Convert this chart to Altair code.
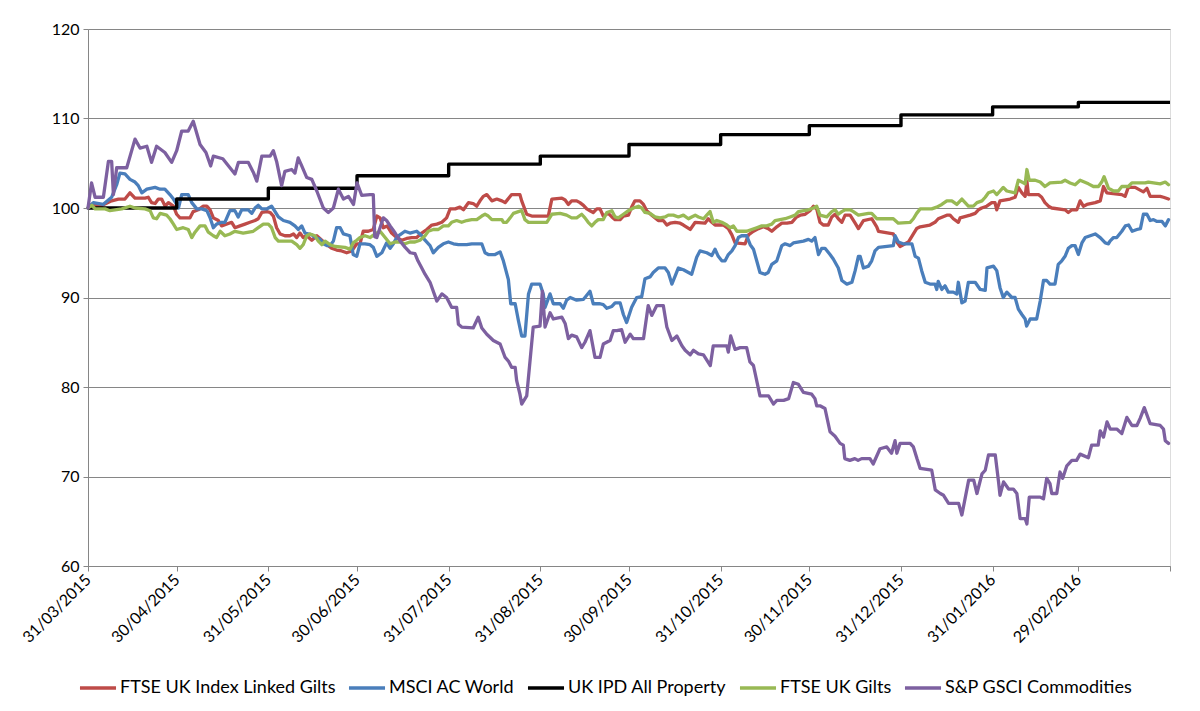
import altair as alt
import pandas as pd

START = pd.Timestamp("2015-03-31")

series_names = ["FTSE UK Index Linked Gilts", "MSCI AC World", "UK IPD All Property",
                "FTSE UK Gilts", "S&P GSCI Commodities"]
series_colors = ["#BE4B48", "#4A7EBB", "#000000", "#98B954", "#7D60A0"]

# (days since 31/03/2015, index value)
index_linked_gilts = [(0,100.0),(1.3,100.4),(4.1,100.2),(8.0,100.8),(10.3,101.0),(12.5,101.0),(14.2,101.7),(15.9,101.1),(19.3,101.1),(20.4,101.2),(21.5,100.6),(22.7,100.5),(23.8,101.0),(24.9,101.0),(26.1,100.2),(27.2,100.6),(28.9,100.2),(30.0,99.3),(31.1,98.9),(34.5,98.9),(35.6,99.6),(37.3,99.8),(39.0,100.2),(40.2,100.2),(41.3,99.8),(42.4,98.9),(44.1,98.6),(45.2,98.0),(48.6,98.4),(49.7,97.8),(51.4,98.0),(53.1,98.2),(54.8,98.4),(56.5,98.6),(57.6,98.8),(58.8,99.5),(60.5,99.6),(61.6,99.5),(62.7,99.1),(63.8,97.8),(65.0,97.1),(66.6,96.9),(68.3,96.9),(69.5,97.1),(70.6,96.7),(71.7,97.2),(72.8,96.7),(74.0,96.9),(75.7,96.4),(77.4,96.9),(79.1,96.4),(80.8,95.9),(82.4,95.5),(84.1,95.3),(85.8,95.2),(87.5,95.0),(89.2,95.2),(90.9,96.0),(92.0,96.0),(93.1,97.4),(94.8,97.4),(96.5,97.6),(97.7,99.1),(98.8,98.9),(99.9,97.8),(101.2,98.0),(102.7,97.2),(104.4,96.7),(106.1,96.4),(107.8,96.6),(109.5,96.7),(111.2,96.7),(112.9,97.2),(114.6,97.6),(116.3,98.1),(118.0,98.2),(119.7,98.4),(121.3,98.9),(122.5,99.9),(124.2,99.9),(125.8,100.1),(127.0,99.8),(128.7,100.6),(130.3,100.5),(131.5,100.2),(132.6,100.8),(133.7,101.3),(134.9,101.5),(136.6,100.8),(138.3,101.0),(140.0,100.8),(141.1,100.6),(143.3,101.5),(146.1,101.5),(146.7,100.8),(148.4,99.3),(150.1,99.1),(155.7,99.1),(156.9,101.0),(160.3,101.1),(161.4,100.9),(162.5,100.4),(163.6,100.8),(165.3,100.8),(166.4,100.6),(167.6,100.3),(168.7,99.9),(169.8,99.7),(170.9,99.5),(172.1,99.9),(173.2,99.9),(174.3,99.1),(176.0,99.4),(177.2,99.0),(178.3,98.7),(180.0,98.7),(181.1,99.1),(182.8,99.2),(183.9,100.1),(185.0,100.8),(186.7,100.8),(187.9,100.4),(189.0,99.7),(190.7,99.2),(192.9,98.6),(194.6,98.6),(195.8,98.1),(196.9,98.3),(198.6,98.4),(200.3,98.3),(201.4,98.1),(203.7,97.6),(205.4,98.4),(208.7,98.3),(209.8,98.8),(211.0,98.4),(212.1,98.1),(214.9,98.1),(216.6,97.7),(217.8,97.0),(218.9,96.1),(222.3,96.0),(223.4,97.0),(225.1,97.4),(226.8,97.7),(228.5,97.9),(230.1,97.7),(231.3,97.4),(233.0,97.9),(234.7,98.3),(236.4,98.3),(238.1,98.4),(239.7,99.0),(240.9,99.2),(242.6,99.3),(244.2,99.7),(245.4,100.2),(246.5,99.9),(247.6,98.4),(248.7,98.1),(250.4,98.1),(251.6,99.0),(252.7,99.3),(253.8,98.8),(255.0,98.4),(256.1,99.2),(257.8,99.2),(259.5,98.3),(260.6,97.7),(262.3,98.6),(265.1,98.8),(266.8,97.9),(267.4,97.4),(272.4,97.1),(273.6,96.2),(274.7,95.7),(276.4,96.0),(277.5,96.2),(279.2,97.1),(280.3,97.7),(281.5,97.9),(284.8,98.1),(286.5,98.4),(287.6,98.8),(290.5,99.2),(291.6,99.2),(292.7,98.8),(294.4,98.4),(295.0,98.9),(298.4,99.2),(300.1,99.4),(301.2,99.8),(302.3,100.0),(304.0,100.2),(305.7,100.6),(306.8,100.6),(307.4,99.8),(308.5,100.8),(311.9,101.0),(313.6,101.2),(314.7,102.3),(315.9,101.7),(317.0,101.3),(317.6,103.0),(318.1,101.5),(321.5,101.5),(322.6,101.2),(323.7,100.6),(324.9,100.2),(326.0,100.0),(330.5,99.8),(331.6,99.5),(332.8,99.8),(334.5,99.8),(335.6,100.8),(336.7,100.2),(337.9,100.4),(340.7,100.6),(342.4,100.8),(343.5,102.4),(344.6,101.7),(349.7,101.5),(350.8,101.3),(351.9,102.3),(354.2,102.3),(355.9,102.0),(357.0,101.8),(358.2,102.2),(359.3,101.3),(362.7,101.3),(363.8,101.2),(365.5,101.0)]

msci_ac_world = [(0,100.0),(1.8,100.6),(5.1,100.4),(8.0,101.2),(9.7,102.6),(10.8,103.9),(12.5,103.8),(14.2,103.2),(15.9,102.9),(17.0,102.5),(18.2,101.7),(19.9,102.1),(22.7,102.3),(24.4,102.1),(26.0,102.1),(27.7,101.5),(28.9,101.0),(30.0,100.4),(30.6,100.0),(31.7,101.5),(33.9,101.5),(35.1,100.6),(36.8,99.9),(38.5,99.9),(40.2,99.7),(41.3,98.9),(42.4,97.8),(43.5,98.2),(45.2,98.4),(46.3,98.4),(48.0,99.7),(49.7,99.7),(50.8,99.0),(52.0,99.8),(54.2,99.8),(55.4,99.4),(56.5,100.0),(57.6,100.3),(58.8,99.9),(60.5,99.9),(61.0,100.0),(62.1,100.2),(62.7,99.9),(64.4,99.0),(66.1,98.6),(68.3,98.4),(70.0,98.0),(71.1,97.6),(72.3,98.0),(73.4,97.2),(75.7,97.0),(76.8,96.7),(78.5,96.5),(79.6,96.0),(80.8,95.8),(81.9,95.8),(83.0,96.3),(84.1,97.8),(85.3,97.8),(86.4,97.1),(88.6,96.9),(89.7,94.8),(90.9,94.6),(92.0,96.0),(93.7,96.0),(95.4,95.9),(96.5,95.6),(97.7,94.6),(99.4,95.0),(101.0,96.1),(102.2,95.5),(103.3,96.0),(104.4,96.7),(105.5,97.0),(107.2,97.4),(108.9,97.2),(111.2,97.4),(112.9,96.9),(114.0,96.4),(115.7,95.8),(116.8,95.0),(118.5,95.6),(120.2,96.0),(121.9,96.2),(123.6,96.0),(125.3,95.9),(128.1,95.9),(129.8,96.0),(133.2,96.0),(134.3,95.0),(135.4,94.8),(137.7,94.8),(139.4,95.1),(140.5,94.1),(142.2,92.0),(143.0,89.3),(144.5,89.3),(145.6,87.4),(146.7,85.7),(147.8,85.7),(149.0,90.4),(150.1,91.5),(152.9,91.5),(154.0,90.4),(154.6,88.9),(156.3,90.4),(157.4,89.3),(159.7,89.3),(160.8,88.8),(161.9,89.7),(163.1,90.0),(165.3,89.7),(167.6,89.8),(168.1,90.0),(169.8,90.7),(170.9,89.3),(173.2,89.3),(174.3,89.2),(175.5,88.8),(177.2,89.0),(178.3,89.4),(180.0,89.4),(181.1,88.1),(182.2,87.2),(183.9,88.9),(185.6,90.0),(187.3,90.1),(188.4,92.1),(190.1,92.3),(191.2,92.8),(192.9,93.3),(195.2,93.3),(196.3,92.8),(197.5,91.5),(198.6,92.4),(199.7,93.3),(201.4,93.1),(203.1,92.8),(204.2,92.6),(205.9,94.5),(207.0,95.2),(209.3,95.0),(211.0,94.7),(212.1,95.4),(213.2,94.6),(214.4,94.1),(215.5,94.1),(216.6,94.8),(217.8,95.2),(218.9,95.8),(220.0,96.7),(221.1,96.9),(222.8,96.9),(224.0,95.9),(225.1,95.4),(226.2,94.1),(227.3,92.8),(229.0,92.6),(230.1,92.8),(231.3,93.7),(233.0,94.1),(234.7,95.8),(235.8,96.0),(237.5,95.8),(238.6,96.1),(242.0,96.3),(243.7,96.5),(244.8,96.3),(245.9,96.7),(247.1,94.8),(248.2,95.5),(249.3,95.5),(251.0,94.8),(252.1,94.3),(253.8,93.3),(255.0,91.9),(256.7,91.5),(258.4,91.7),(259.5,93.0),(260.6,94.6),(261.2,94.6),(262.3,93.3),(264.0,93.5),(265.1,94.1),(266.2,95.2),(267.4,95.6),(272.4,95.8),(273.0,96.9),(274.1,96.2),(275.7,96.0),(278.7,96.0),(279.8,94.6),(280.9,94.4),(282.0,93.0),(283.2,91.7),(284.8,91.5),(286.5,91.5),(287.1,90.9),(287.6,91.8),(288.8,90.9),(289.9,91.3),(291.0,90.6),(292.7,90.6),(293.9,90.4),(294.4,91.7),(295.6,89.4),(296.7,89.6),(297.8,91.7),(300.1,91.7),(301.8,90.9),(303.5,90.8),(304.1,93.3),(306.3,93.5),(307.4,93.0),(308.5,91.1),(309.6,90.0),(310.8,90.6),(312.5,90.0),(313.6,90.0),(314.7,88.7),(315.9,88.1),(317.0,87.6),(317.5,86.8),(318.7,87.6),(320.9,87.6),(322.1,89.6),(323.2,91.9),(324.3,91.9),(325.4,91.5),(327.1,91.5),(328.2,93.7),(329.4,94.1),(330.5,94.6),(331.6,95.5),(332.8,95.8),(333.9,95.8),(335.0,94.8),(336.2,96.1),(337.3,96.7),(339.0,96.9),(340.7,97.1),(342.4,96.7),(344.1,96.1),(345.2,96.0),(345.7,96.3),(346.9,96.7),(348.0,96.7),(349.7,97.4),(350.9,98.0),(352.0,98.1),(353.2,97.4),(354.8,97.6),(356.0,97.7),(357.0,99.3),(358.2,99.3),(359.3,98.6),(360.4,98.7),(361.6,98.5),(363.3,98.5),(364.4,98.0),(365.5,98.7)]

uk_gilts = [(0,100.0),(1.3,100.3),(2.4,99.9),(5.8,99.9),(7.4,99.7),(11.4,99.9),(14.2,100.2),(15.9,100.0),(19.3,99.9),(21.0,99.7),(22.1,98.9),(23.2,98.8),(24.4,99.4),(26.6,99.2),(27.7,98.8),(28.9,98.2),(30.0,97.6),(32.2,97.8),(33.9,97.6),(35.1,96.7),(36.2,97.3),(37.9,98.0),(39.6,98.0),(40.7,97.3),(42.4,96.9),(43.5,96.7),(44.7,97.4),(46.3,96.9),(48.0,97.1),(49.7,97.4),(52.5,97.2),(55.9,97.4),(57.6,97.8),(59.3,98.2),(61.0,98.2),(62.1,97.8),(63.3,96.7),(64.4,96.3),(68.9,96.3),(70.6,95.9),(71.7,95.5),(72.8,95.9),(74.0,96.9),(75.1,97.1),(76.8,96.9),(77.9,96.3),(79.1,95.9),(80.2,96.3),(81.9,95.9),(83.6,95.7),(86.9,95.6),(88.6,95.4),(89.7,96.1),(90.9,96.4),(92.0,96.7),(93.7,96.9),(95.4,96.7),(97.1,97.1),(98.8,97.4),(100.5,96.7),(102.2,96.0),(103.9,96.2),(105.5,96.2),(107.2,96.0),(108.9,96.2),(110.6,96.2),(112.3,96.4),(114.0,96.9),(115.1,97.4),(116.8,97.6),(118.5,97.6),(120.2,98.0),(121.9,98.0),(123.0,98.4),(124.7,98.6),(126.4,98.4),(128.1,98.6),(129.8,98.7),(131.5,98.7),(133.2,99.1),(134.3,99.3),(135.4,99.1),(136.6,98.7),(140.0,98.7),(140.5,98.4),(141.6,98.4),(142.8,98.9),(143.9,99.4),(145.6,99.6),(146.7,99.7),(147.8,98.7),(149.0,98.4),(155.2,98.4),(156.9,99.3),(159.7,99.4),(161.9,99.2),(163.6,98.9),(165.3,98.9),(167.0,99.3),(168.1,98.9),(169.2,98.4),(170.4,98.0),(171.5,98.4),(172.6,98.7),(174.3,98.7),(175.5,99.5),(177.2,99.7),(178.3,99.0),(179.4,98.9),(181.1,99.3),(182.8,99.7),(184.5,100.0),(186.2,100.2),(187.3,100.0),(188.4,99.5),(190.1,99.4),(191.8,99.0),(193.5,98.9),(195.2,99.0),(196.3,99.2),(198.0,99.2),(199.7,99.0),(201.4,99.2),(203.1,98.8),(204.2,99.0),(205.4,99.2),(206.5,99.0),(208.2,98.8),(209.3,99.2),(210.4,99.6),(211.5,98.4),(212.7,98.6),(214.4,98.4),(216.1,98.1),(217.2,97.8),(218.3,98.0),(219.5,97.4),(222.8,97.4),(224.5,97.6),(226.2,97.8),(227.9,98.0),(229.6,98.0),(231.3,98.2),(232.4,98.6),(235.8,98.8),(237.5,99.0),(239.2,99.2),(240.3,99.6),(243.7,99.8),(245.4,100.0),(246.5,100.2),(247.6,99.2),(249.9,99.0),(251.6,99.6),(252.7,99.8),(253.8,99.3),(255.0,99.6),(256.1,99.8),(257.8,99.8),(258.9,99.6),(260.6,99.2),(264.0,99.4),(265.1,99.4),(266.8,98.8),(272.4,98.8),(274.1,98.3),(278.1,98.4),(279.2,98.8),(280.3,99.4),(281.5,99.9),(285.4,99.9),(287.1,100.1),(288.8,100.4),(290.5,100.8),(292.2,100.8),(293.9,100.4),(295.6,101.0),(296.7,100.6),(297.8,100.2),(299.5,100.2),(300.7,100.6),(302.4,100.8),(303.5,101.2),(304.6,101.7),(306.3,101.9),(307.4,101.5),(308.5,101.9),(309.6,102.3),(310.8,101.9),(313.6,101.7),(314.7,103.1),(315.9,102.9),(317.0,102.7),(317.6,104.3),(318.4,103.1),(320.4,103.1),(322.1,102.9),(323.7,102.4),(325.4,102.8),(329.4,102.9),(330.5,103.1),(332.2,102.8),(333.9,102.6),(335.6,103.1),(338.4,102.7),(340.1,102.4),(341.8,102.4),(342.9,102.9),(343.7,103.5),(345.2,102.2),(346.9,101.9),(348.5,101.9),(349.7,102.4),(351.9,102.4),(353.1,102.8),(357.6,102.8),(358.7,102.9),(362.7,102.7),(364.4,102.9),(365.5,102.6)]

gsci_commodities = [(0,100.0),(1.2,102.8),(2.4,101.2),(5.2,101.2),(6.9,105.2),(8.0,105.2),(8.6,101.5),(9.7,104.5),(13.1,104.5),(15.9,107.7),(17.6,106.7),(19.9,106.9),(21.5,105.1),(23.2,106.9),(26.0,106.2),(28.3,105.1),(30.0,106.4),(31.7,108.6),(33.9,108.6),(35.6,109.7),(37.9,107.1),(39.9,106.2),(41.5,104.7),(42.4,105.8),(45.6,105.5),(49.7,103.8),(50.9,105.1),(54.2,105.1),(55.9,104.0),(57.1,103.0),(58.8,105.8),(61.6,105.8),(62.7,106.4),(63.8,105.2),(65.5,102.5),(66.6,104.1),(68.9,104.3),(70.0,103.9),(71.1,105.6),(72.3,104.7),(74.0,103.4),(75.7,103.2),(77.4,101.9),(79.6,100.0),(81.3,99.5),(83.0,100.0),(84.7,102.1),(86.4,101.0),(88.1,101.3),(89.8,100.4),(91.0,102.8),(92.6,101.4),(95.4,101.5),(96.5,101.5),(97.0,96.8),(97.7,96.7),(99.9,98.9),(101.0,98.6),(102.2,98.0),(103.9,97.2),(105.6,96.3),(107.3,95.6),(109.0,95.0),(110.6,94.9),(111.6,94.1),(112.9,93.3),(114.0,92.6),(115.7,91.7),(118.0,89.6),(119.7,90.4),(121.3,90.0),(123.0,88.9),(124.7,88.9),(125.3,87.0),(126.4,86.7),(130.3,86.6),(132.0,87.8),(133.2,86.6),(134.9,85.9),(137.1,85.2),(139.4,84.8),(141.1,83.3),(142.2,82.9),(143.3,82.2),(144.5,82.2),(145.0,80.7),(146.1,79.2),(146.7,78.1),(148.4,79.0),(150.6,86.7),(152.9,86.8),(153.7,90.7),(154.6,86.7),(156.3,88.3),(157.4,87.6),(160.3,87.8),(161.4,87.1),(162.5,85.4),(163.6,85.8),(165.3,85.6),(167.0,84.4),(168.1,85.0),(169.8,86.3),(171.5,83.3),(173.2,83.3),(174.3,84.8),(176.6,85.2),(177.7,86.3),(178.9,86.3),(180.5,86.4),(181.7,85.0),(183.4,85.9),(184.5,85.4),(187.9,85.4),(189.5,89.1),(190.7,88.0),(192.4,89.1),(194.6,89.1),(195.8,86.7),(197.5,85.2),(199.2,85.7),(200.9,84.6),(202.0,84.1),(203.7,83.6),(204.8,84.1),(206.5,83.7),(208.2,83.6),(210.5,82.4),(211.5,84.6),(216.1,84.6),(216.6,83.9),(217.4,85.7),(218.9,84.2),(220.6,84.4),(222.8,84.4),(223.9,82.8),(225.1,82.4),(227.3,79.0),(230.2,79.0),(231.9,78.1),(233.0,78.5),(235.3,78.5),(237.0,78.7),(238.6,80.5),(240.3,80.3),(242.0,79.4),(244.8,79.2),(245.9,78.7),(246.5,77.9),(247.6,77.9),(249.3,77.6),(251.0,75.0),(252.7,74.5),(254.4,73.7),(255.5,73.5),(256.0,72.0),(257.7,71.8),(259.4,72.0),(260.5,71.8),(261.7,72.0),(264.5,72.0),(265.6,71.4),(267.9,73.1),(270.2,73.3),(271.8,72.6),(273.0,74.0),(273.6,72.6),(274.7,73.7),(278.1,73.7),(279.2,73.3),(280.4,72.0),(281.5,70.9),(285.4,70.7),(286.6,68.5),(288.3,68.1),(289.4,67.9),(291.1,67.0),(294.5,67.0),(295.6,65.7),(297.9,69.6),(299.6,69.6),(300.7,68.1),(302.4,70.3),(303.5,70.7),(304.6,72.4),(306.9,72.4),(308.0,69.4),(308.5,67.9),(309.7,69.4),(311.4,68.6),(313.0,68.6),(314.2,68.1),(315.3,65.3),(317.0,65.3),(317.6,64.7),(318.4,67.7),(322.1,67.7),(323.2,67.5),(324.3,69.8),(325.4,69.2),(326.0,68.1),(327.7,68.1),(328.8,70.5),(329.7,69.8),(331.1,71.2),(332.8,71.8),(334.4,71.8),(335.6,72.5),(338.4,72.1),(339.5,73.5),(341.7,73.5),(342.4,75.1),(343.5,74.4),(344.7,76.1),(345.8,75.3),(348.0,75.3),(349.7,74.8),(351.4,76.6),(353.1,75.7),(354.8,75.7),(355.9,76.5),(357.3,77.7),(359.3,75.9),(362.7,75.7),(363.8,75.3),(364.4,74.0),(365.5,73.7)]

# UK IPD All Property: monthly index, held flat between month ends
ipd_dates = ["2015-03-31", "2015-04-30", "2015-05-31", "2015-06-30", "2015-07-31", "2015-08-31",
             "2015-09-30", "2015-10-31", "2015-11-30", "2015-12-31", "2016-01-31", "2016-02-29",
             "2016-03-31"]
ipd_values = [100.0, 101.0, 102.2, 103.6, 104.9, 105.8, 107.1, 108.2, 109.2, 110.4, 111.3, 111.8, 111.8]

tick_dates = [(2015, 3, 31), (2015, 4, 30), (2015, 5, 31), (2015, 6, 30), (2015, 7, 31), (2015, 8, 31),
              (2015, 9, 30), (2015, 10, 31), (2015, 11, 30), (2015, 12, 31), (2016, 1, 31), (2016, 2, 29),
              (2016, 3, 31)]
y_ticks = [60, 70, 80, 90, 100, 110, 120]


def frame(pairs, name):
    df = pd.DataFrame(pairs, columns=["day", "value"])
    df["date"] = START + pd.to_timedelta(df["day"], unit="D")
    df["series"] = name
    return df[["date", "value", "series"]]


daily = {
    series_names[0]: frame(index_linked_gilts, series_names[0]),
    series_names[1]: frame(msci_ac_world, series_names[1]),
    series_names[3]: frame(uk_gilts, series_names[3]),
    series_names[4]: frame(gsci_commodities, series_names[4]),
}
ipd = pd.DataFrame({"date": pd.to_datetime(ipd_dates), "value": ipd_values, "series": series_names[2]})

FONT = "Lato"
GREY = "#868686"

x_enc = alt.X(
    "date:T",
    scale=alt.Scale(domain=[alt.DateTime(year=2015, month=3, date=31),
                            alt.DateTime(year=2016, month=3, date=31)], nice=False),
    axis=alt.Axis(
        values=[alt.DateTime(year=y, month=m, date=d) for (y, m, d) in tick_dates],
        labelExpr="(year(datum.value) == 2016 && month(datum.value) == 2) ? '' : timeFormat(datum.value, '%d/%m/%Y')",
        labelAngle=-45, labelAlign="right", labelBaseline="middle",
        labelFont=FONT, labelFontSize=16, labelColor="#000000", labelPadding=6,
        labelOverlap=False, grid=False, domainColor=GREY, tickColor=GREY, tickSize=5,
        title=None,
    ),
)
y_enc = alt.Y(
    "value:Q",
    scale=alt.Scale(domain=[60, 120], nice=False, zero=False),
    axis=alt.Axis(values=y_ticks, grid=True, gridColor=GREY, domainColor=GREY, tickColor=GREY,
                  tickSize=5, labelFont=FONT, labelFontSize=16, labelColor="#000000",
                  labelPadding=4, title=None),
)
color_enc = alt.Color(
    "series:N",
    scale=alt.Scale(domain=series_names, range=series_colors),
    legend=alt.Legend(orient="none", legendX=-10, legendY=639, direction="horizontal", title=None,
                      symbolType="stroke", symbolStrokeWidth=3.3, symbolSize=1300,
                      labelFont=FONT, labelFontSize=18, labelColor="#000000", labelOffset=2,
                      columnPadding=6, padding=0, labelLimit=400),
)

layers = []
for name in series_names:
    if name == series_names[2]:
        layer = alt.Chart(ipd).mark_line(strokeWidth=3.4, interpolate="step-after", strokeJoin="round")
    else:
        layer = alt.Chart(daily[name]).mark_line(strokeWidth=3.3, strokeJoin="round", strokeCap="round")
    layers.append(layer.encode(x=x_enc, y=y_enc, color=color_enc))

chart = alt.layer(*layers).resolve_scale(color="shared").properties(
    width=1082, height=537,
    autosize=alt.AutoSizeParams(type="none"),
    padding={"left": 80, "top": 21, "right": 22, "bottom": 137},
).configure_view(stroke=None).configure(background="#FFFFFF")

chart.save("out.html", embed_options={"renderer": "svg", "actions": False})
